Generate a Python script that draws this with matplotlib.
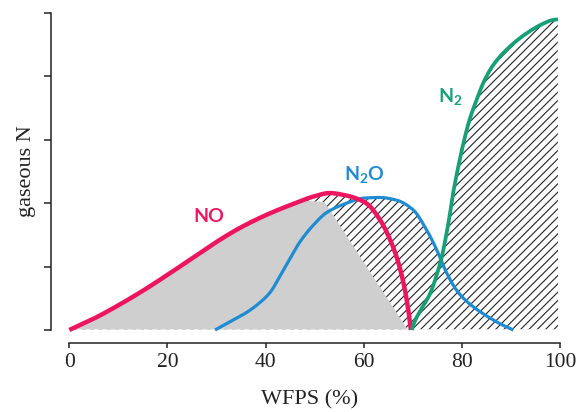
import numpy as np
import matplotlib
matplotlib.use("Agg")
import matplotlib.pyplot as plt

# ---------------- data ----------------
no_x = [0, 5, 10, 15, 20, 25, 30, 35, 40, 45, 50, 53, 56.5, 60.5, 63.3, 65.4, 67.1, 68.4, 69.2, 69.6]
no_y = [0, 0.18, 0.39, 0.62, 0.87, 1.13, 1.39, 1.62, 1.81, 1.97, 2.11, 2.16, 2.12, 2.0, 1.74, 1.42, 1.05, 0.63, 0.25, 0]

n2o_x = [29.7, 33, 36, 38.8, 41, 43, 45, 47, 49.8, 52.4, 56.5, 60, 63.3, 66.6, 70, 72.8, 74.9, 76.9, 78.9, 81, 83.5, 85.5, 88, 90.5]
n2o_y = [0, 0.14, 0.27, 0.43, 0.6, 0.86, 1.13, 1.39, 1.66, 1.85, 2.0, 2.08, 2.09, 2.05, 1.9, 1.58, 1.26, 0.9, 0.63, 0.45, 0.3, 0.2, 0.09, 0]

n2_x = [69.8, 70.2, 71.5, 73.5, 75, 75.9, 76.6, 77.5, 78.2, 79.2, 80.3, 81.5, 83, 84.5, 86.4, 89.5, 93.2, 96.5, 98.5, 99.6]
n2_y = [0, 0.1, 0.3, 0.57, 0.9, 1.15, 1.41, 1.8, 2.15, 2.55, 2.94, 3.3, 3.63, 3.92, 4.18, 4.45, 4.68, 4.83, 4.89, 4.9]

# corner points of the grey (NO-only) zone after it leaves the NO curve
grey_x = [48, 52, 69]
grey_y = [2.04, 2.02, 0]

x_ticks = [0, 20, 40, 60, 80, 100]
y_ticks = [0, 1, 2, 3, 4, 5]
x_label = "WFPS (%)"
y_label = "gaseous N"

labels = ["NO", "N$_2$O", "N$_2$"]
label_x = [28.5, 60.1, 77.7]
label_y = [1.71, 2.37, 3.60]

# ---------------- style ----------------
c_no = "#ee1560"
c_n2o = "#1e8bd3"
c_n2 = "#16a078"
serif = ["Liberation Serif", "DejaVu Serif"]

plt.rcParams["mathtext.fontset"] = "custom"
plt.rcParams["mathtext.rm"] = "Lato:bold"
plt.rcParams["mathtext.default"] = "rm"
plt.rcParams["hatch.linewidth"] = 0.8


def pchip(x, y, xn):
    x = np.asarray(x, float)
    y = np.asarray(y, float)
    h = np.diff(x)
    d = np.diff(y) / h
    n = len(x)
    m = np.zeros(n)
    for k in range(1, n - 1):
        if d[k - 1] * d[k] <= 0:
            m[k] = 0
        else:
            w1 = 2 * h[k] + h[k - 1]
            w2 = h[k] + 2 * h[k - 1]
            m[k] = (w1 + w2) / (w1 / d[k - 1] + w2 / d[k])
    m[0] = d[0]
    m[-1] = d[-1]
    xn = np.asarray(xn, float)
    idx = np.clip(np.searchsorted(x, xn) - 1, 0, n - 2)
    t = (xn - x[idx]) / h[idx]
    h00 = 2 * t**3 - 3 * t**2 + 1
    h10 = t**3 - 2 * t**2 + t
    h01 = -2 * t**3 + 3 * t**2
    h11 = t**3 - t**2
    return h00 * y[idx] + h10 * h[idx] * m[idx] + h01 * y[idx + 1] + h11 * h[idx] * m[idx + 1]


def curve(x, y):
    xs = np.linspace(x[0], x[-1], 600)
    return xs, pchip(x, y, xs)


fig = plt.figure(figsize=(5.76, 4.12), dpi=100)
ax = fig.add_axes([69.3 / 576, 82 / 412, 490.7 / 576, 317 / 412])
ax.set_xlim(0, 100)
ax.set_ylim(0, 5)

nx, ny = curve(no_x, no_y)
ox, oy = curve(n2o_x, n2o_y)
zx, zy = curve(n2_x, n2_y)

# grey zone: NO curve up to first grey corner, then straight edges
mask = nx <= grey_x[0]
gx = np.concatenate([nx[mask], grey_x])
gy = np.concatenate([ny[mask], grey_y])
ax.fill_between(gx, 0, gy, facecolor="#cfcfcf", edgecolor="none", linewidth=0, zorder=1)

# hatched zone: between grey edge and the upper envelope of all curves
hx = np.linspace(grey_x[0], 100, 800)
lower = np.interp(hx, grey_x, grey_y, right=0)
env = np.zeros_like(hx)
for cx, cy in [(nx, ny), (ox, oy), (zx, zy)]:
    vals = np.where((hx >= cx[0]) & (hx <= cx[-1]), np.interp(hx, cx, cy), 0)
    env = np.maximum(env, vals)
env[-1] = max(env[-1], env[-2])
ax.fill_between(hx, lower, env, facecolor="none", edgecolor="#222222",
                hatch="////", linewidth=0, zorder=1)

# light dashed baseline under the shading
ax.plot([0, 100], [0, 0], color="#f2f2f2", lw=1.2, ls=(0, (3, 2)), zorder=2)

ax.plot(ox, oy, color=c_n2o, lw=2.3, zorder=3, solid_capstyle="butt", clip_on=False)
ax.plot(nx, ny, color=c_no, lw=3.2, zorder=4, solid_capstyle="butt", clip_on=False)
ax.plot(zx, zy, color=c_n2, lw=2.7, zorder=5, solid_capstyle="butt", clip_on=False)

for t, xx, yy, c in zip(labels, label_x, label_y, [c_no, c_n2o, c_n2]):
    ax.text(xx, yy, t, color=c, fontsize=14, fontweight="bold", family="Lato",
            ha="center", va="baseline", zorder=6)

# axes styling (R-like detached axes)
for s in ["top", "right"]:
    ax.spines[s].set_visible(False)
ax.spines["left"].set_position(("outward", 13.4))
ax.spines["bottom"].set_position(("outward", 9.4))
ax.spines["left"].set_bounds(0, 5)
ax.spines["bottom"].set_bounds(0, 100)
for s in ["left", "bottom"]:
    ax.spines[s].set_linewidth(1.1)
    ax.spines[s].set_color("#222222")

ax.set_xticks(x_ticks)
ax.set_xticklabels([str(v) for v in x_ticks], family=serif, fontsize=15.5, color="#222222")
ax.set_yticks(y_ticks)
ax.set_yticklabels([])
ax.tick_params(axis="x", direction="out", length=3.8, width=1.1, color="#222222", pad=3.5)
ax.tick_params(axis="y", direction="out", length=5, width=1.1, color="#222222")

ax.set_xlabel(x_label, family=serif, fontsize=16, color="#222222")
ax.xaxis.set_label_coords(0.49, -0.19)
ax.set_ylabel(y_label, family=serif, fontsize=16, color="#222222")
ax.yaxis.set_label_coords(-0.068, 0.5)

fig.savefig("out.png", dpi=100)
